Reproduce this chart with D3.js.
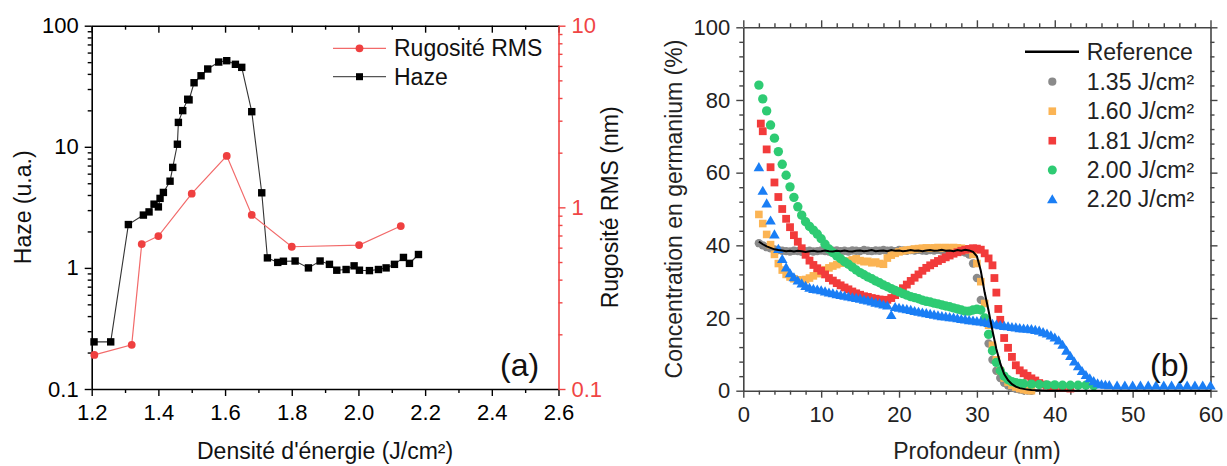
<!DOCTYPE html>
<html><head><meta charset="utf-8">
<script src="https://cdn.jsdelivr.net/npm/d3@7"></script>
<style>
body{margin:0;background:#fff;}
svg text{font-family:"Liberation Sans", Arial, sans-serif;}
</style></head><body>
<svg id="c" width="1227" height="466"></svg>
<script>
// ---------- Panel (a) data ----------
const hazeEnergy = [1.207,1.257,1.31,1.355,1.372,1.387,1.40,1.405,1.415,1.435,1.443,1.457,1.46,1.473,1.488,1.492,1.507,1.528,1.548,1.581,1.605,1.631,1.65,1.68,1.71,1.727,1.758,1.775,1.81,1.85,1.885,1.913,1.935,1.963,1.987,2.003,2.033,2.06,2.083,2.108,2.135,2.153,2.18];
const hazeValues = [0.245,0.245,2.28,2.73,2.9,3.36,3.19,3.75,4.2,5.2,6.76,10.5,15.9,19.9,24.7,24.4,33.8,38.6,43.9,50.1,51.4,48,45.3,19.5,4.17,1.21,1.11,1.135,1.14,1.0,1.14,1.07,0.957,0.97,1.04,0.957,0.95,0.97,1.0,1.07,1.22,1.09,1.29];
const rmsEnergy = [1.208,1.32,1.35,1.40,1.50,1.605,1.68,1.80,2.002,2.127];
const rmsValues = [0.154,0.175,0.628,0.695,1.19,1.92,0.908,0.607,0.62,0.789];
const xTicksA = [1.2,1.4,1.6,1.8,2.0,2.2,2.4,2.6];
const xMinorA = [1.3,1.5,1.7,1.9,2.1,2.3,2.5];
const yTicksHaze = [0.1,1,10,100];
const yTicksRms = [0.1,1,10];
const legendA = ["Rugosité RMS","Haze"];

// ---------- Panel (b) data : [depth nm, Ge %] ----------
const reference = [[2,41.0],[2.5,40.3],[3,39.7],[3.5,39.3],[4,38.9],[4.5,38.7],[5,38.6],[5.5,38.4],[6,38.5],[6.5,38.3],[7,38.5],[7.5,38.4],[8,38.2],[8.5,38.4],[9,38.5],[9.5,38.3],[10,38.4],[10.5,38.6],[11,38.4],[11.5,38.3],[12,38.5],[12.5,38.4],[13,38.6],[13.5,38.4],[14,38.3],[14.5,38.5],[15,38.6],[15.5,38.4],[16,38.5],[16.5,38.7],[17,38.4],[17.5,38.5],[18,38.6],[18.5,38.4],[19,38.7],[19.5,38.5],[20,38.6],[20.5,38.4],[21,38.5],[21.5,38.7],[22,38.5],[22.5,38.6],[23,38.4],[23.5,38.6],[24,38.7],[24.5,38.5],[25,38.6],[25.5,38.8],[26,38.5],[26.5,38.6],[27,38.4],[27.5,38.7],[28,38.5],[28.5,38.8],[29,38.6],[29.5,38.2],[30,37.0],[30.5,33.0],[31,27.0],[31.5,22.0],[32,16.5],[32.5,11.5],[33,7.5],[33.5,4.6],[34,2.9],[34.5,1.8],[35,1.1],[35.5,0.7],[36,0.5],[36.5,0.3],[37,0.2],[38,0.1],[39,0],[40,0],[45,0],[50,0],[55,0],[60,0]];
const f135 = [[2,40.6],[2.5,40.0],[3,39.5],[3.5,39.2],[4,38.9],[4.5,38.7],[5,38.5],[5.5,38.4],[6,38.3],[6.5,38.5],[7,38.4],[7.5,38.2],[8,38.4],[8.5,38.5],[9,38.3],[9.5,38.4],[10,38.6],[10.5,38.4],[11,38.3],[11.5,38.5],[12,38.6],[12.5,38.4],[13,38.5],[13.5,38.3],[14,38.6],[14.5,38.5],[15,38.4],[15.5,38.7],[16,38.5],[16.5,38.4],[17,38.6],[17.5,38.5],[18,38.7],[18.5,38.5],[19,38.6],[19.5,38.4],[20,38.7],[20.5,38.6],[21,38.5],[21.5,38.7],[22,38.6],[22.5,38.8],[23,38.6],[23.5,38.5],[24,38.7],[24.5,38.6],[25,38.8],[25.5,38.6],[26,38.7],[26.5,38.5],[27,38.6],[27.5,38.4],[28,38.3],[28.5,38.0],[29,37.5],[29.5,35.0],[30,31.0],[30.5,25.0],[31,19.0],[31.5,13.0],[32,8.5],[32.5,5.5],[33,3.5],[33.5,2.2],[34,1.4],[34.5,0.9],[35,0.5],[35.5,0.3],[36,0.1],[36.5,0.05],[37,0]];
const f160 = [[2,48.5],[2.5,46.0],[3,43.0],[3.5,40.2],[4,37.5],[4.5,35.0],[5,33.2],[5.5,32.0],[6,31.3],[6.5,30.8],[7,30.5],[7.5,30.4],[8,30.6],[8.5,31.0],[9,31.6],[9.5,32.2],[10,32.8],[10.5,33.3],[11,33.8],[11.5,34.3],[12,34.7],[12.5,35.1],[13,35.4],[13.5,35.7],[14,36.0],[14.5,36.3],[15,35.8],[15.5,35.5],[16,35.6],[16.5,35.2],[17,35.4],[17.5,35.0],[18,34.8],[18.5,36.5],[19,37.3],[19.5,37.8],[20,38.2],[20.5,38.5],[21,38.7],[21.5,38.8],[22,39.0],[22.5,39.1],[23,39.2],[23.5,39.3],[24,39.2],[24.5,39.3],[25,39.4],[25.5,39.3],[26,39.4],[26.5,39.3],[27,39.4],[27.5,39.3],[28,39.2],[28.5,39.0],[29,38.7],[29.5,37.5],[30,35.0],[30.5,30.0],[31,24.0],[31.5,18.0],[32,12.5],[32.5,8.5],[33,5.5],[33.5,3.5],[34,2.3],[34.5,1.5],[35,1.0],[35.5,0.6],[36,0.3],[36.5,0.1],[37,0]];
const f181 = [[2.25,73.5],[2.5,71.4],[3,66.4],[3.5,61.5],[4,57.3],[4.5,53.3],[5,50.0],[5.5,47.3],[6,45.0],[6.5,42.8],[7,41.0],[7.5,39.2],[8,37.4],[8.5,35.8],[9,34.6],[9.5,33.7],[10,33.0],[10.5,32.0],[11,31.0],[11.5,30.3],[12,29.6],[12.5,29.0],[13,28.4],[13.5,27.9],[14,27.3],[14.5,26.8],[15,26.4],[15.5,26.0],[16,25.8],[16.5,25.5],[17,25.3],[17.5,25.1],[18,25.0],[18.5,25.0],[19,25.5],[19.5,26.3],[20,27.2],[20.5,28.2],[21,29.2],[21.5,30.2],[22,31.1],[22.5,32.0],[23,33.0],[23.5,33.8],[24,34.5],[24.5,35.1],[25,35.7],[25.5,36.2],[26,36.7],[26.5,37.2],[27,37.7],[27.5,38.1],[28,38.5],[28.5,38.8],[29,39.0],[29.5,39.2],[30,39.1],[30.5,38.8],[31,37.8],[31.5,36.4],[32,34.5],[32.25,31.0],[32.5,27.0],[32.75,22.5],[33,19.5],[33.5,14.5],[34,11.8],[34.5,9.3],[35,7.0],[35.5,5.6],[36,4.8],[36.5,4.1],[37,3.4],[37.5,2.8],[38,2.1],[38.5,1.7],[39,1.4],[39.5,1.2],[40,1.0],[41,0.8],[42,0.6]];
const f200 = [[2,84.1],[2.5,80.3],[3,77.0],[3.5,73.1],[4,69.5],[4.5,65.8],[5,62.3],[5.5,59.3],[6,56.1],[6.5,53.2],[7,50.6],[7.5,48.3],[8,46.5],[8.5,45.2],[9,44.2],[9.5,43.1],[10,41.8],[10.5,40.3],[11,39.0],[11.5,38.0],[12,37.1],[12.5,36.3],[13,35.5],[13.5,34.8],[14,34.0],[14.5,33.2],[15,32.5],[15.5,31.9],[16,31.3],[16.5,30.8],[17,30.2],[17.5,29.7],[18,29.1],[18.5,28.6],[19,28.1],[19.5,27.6],[20,27.2],[20.5,26.7],[21,26.3],[21.5,25.9],[22,25.6],[22.5,25.3],[23,24.9],[23.5,24.6],[24,24.4],[24.5,24.1],[25,23.9],[25.5,23.6],[26,23.3],[26.5,23.1],[27,22.8],[27.5,22.5],[28,22.2],[28.5,21.9],[29,21.9],[29.5,22.2],[30,22.4],[30.5,22.2],[31,20.0],[31.5,15.5],[32,11.0],[32.5,7.8],[33,5.5],[33.5,4.0],[34,3.0],[34.5,2.5],[35,2.2],[35.5,2.0],[36,1.9],[37,1.8],[38,1.7],[39,1.6],[40,1.6],[41,1.5],[42,1.5],[43,1.5],[44,1.5],[45,1.4]];
const f220 = [[2,61.5],[2.5,55.0],[3,51.5],[3.5,46.8],[4,43.0],[4.5,39.0],[5,36.2],[5.5,33.9],[6,32.3],[6.5,31.2],[7,30.3],[7.5,29.5],[8,28.8],[8.5,28.3],[9,28.0],[9.5,27.8],[10,27.6],[10.5,27.3],[11,27.0],[11.5,26.8],[12,26.5],[12.5,26.3],[13,26.1],[13.5,25.9],[14,25.7],[14.5,25.5],[15,25.3],[15.5,25.0],[16,24.8],[16.5,24.5],[17,24.2],[17.5,24.0],[18,23.7],[18.5,23.4],[19,20.8],[19.5,23.0],[20,22.8],[20.5,22.6],[21,22.4],[21.5,22.2],[22,21.9],[22.5,21.7],[23,21.5],[23.5,21.3],[24,21.1],[24.5,20.9],[25,20.7],[25.5,20.5],[26,20.4],[26.5,20.2],[27,20.1],[27.5,19.9],[28,19.7],[28.5,19.6],[29,19.4],[29.5,19.3],[30,19.1],[30.5,19.0],[31,18.8],[31.5,18.6],[32,18.4],[32.5,18.2],[33,18.0],[33.5,17.8],[34,17.7],[34.5,17.5],[35,17.4],[35.5,17.2],[36,17.1],[36.5,17.0],[37,16.9],[37.5,16.7],[38,16.5],[38.5,16.1],[39,15.7],[39.5,15.2],[40,14.6],[40.5,13.8],[41,12.6],[41.5,11.0],[42,9.5],[42.5,8.0],[43,6.7],[43.5,5.4],[44,4.3],[44.5,3.4],[45,2.6],[45.5,2.0],[46,1.7],[46.5,1.6],[47,1.5],[48,1.4],[49,1.4],[50,1.4],[51,1.4],[52,1.4],[53,1.4],[54,1.4],[55,1.4],[56,1.4],[57,1.4],[58,1.4],[59,1.4],[60,1.4]];
const xTicksB = [0,10,20,30,40,50,60];
const yTicksB = [0,20,40,60,80,100];
const legendB = ["Reference","1.35 J/cm²","1.60 J/cm²","1.81 J/cm²","2.00 J/cm²","2.20 J/cm²"];

// ---------- helpers ----------
const svg = d3.select("#c");
const FONT = "'Liberation Sans', Arial, sans-serif";
function styleAxis(g, color, fs){
  g.attr("color", color).attr("font-size", fs).attr("font-family", FONT);
  g.selectAll("path.domain").attr("stroke-width", 1.6);
  g.selectAll(".tick line").attr("stroke-width", 1.4);
}
function minorLog(lo, hi){
  const out=[];
  for(let d=lo; d<hi*0.999; d*=10){ for(let k=2;k<10;k++) out.push(+(d*k).toPrecision(3)); }
  return out;
}

// ================= Panel (a) =================
const A = {x0:91.7, x1:558.5, y0:25.7, y1:389};
const xA = d3.scaleLinear().domain([1.2,2.6]).range([A.x0,A.x1]);
const yH = d3.scaleLog().domain([0.1,100]).range([A.y1,A.y0]);
const yR = d3.scaleLog().domain([0.1,10]).range([A.y1,A.y0]);
const gA = svg.append("g");
const fmtA = d=> d3.format(".1f")(d);

let g = gA.append("g").attr("transform",`translate(0,${A.y1})`)
  .call(d3.axisBottom(xA).tickValues(xTicksA).tickFormat(fmtA).tickSizeInner(7).tickSizeOuter(0).tickPadding(8));
styleAxis(g,"#000",22);
g = gA.append("g").attr("transform",`translate(0,${A.y1})`)
  .call(d3.axisBottom(xA).tickValues(xMinorA).tickFormat("").tickSizeInner(4).tickSizeOuter(0));
styleAxis(g,"#000",22); g.select(".domain").remove();
g = gA.append("g").attr("transform",`translate(0,${A.y0})`)
  .call(d3.axisBottom(xA).tickValues(xTicksA).tickFormat("").tickSizeInner(7).tickSizeOuter(0));
styleAxis(g,"#000",22);
g = gA.append("g").attr("transform",`translate(0,${A.y0})`)
  .call(d3.axisBottom(xA).tickValues(xMinorA).tickFormat("").tickSizeInner(4).tickSizeOuter(0));
styleAxis(g,"#000",22); g.select(".domain").remove();
g = gA.append("g").attr("transform",`translate(${A.x0},0)`)
  .call(d3.axisLeft(yH).tickValues(yTicksHaze).tickFormat(d=>String(d)).tickSizeInner(7).tickSizeOuter(0).tickPadding(6));
styleAxis(g,"#000",22);
g = gA.append("g").attr("transform",`translate(${A.x0},0)`)
  .call(d3.axisLeft(yH).tickValues(minorLog(0.1,100)).tickFormat("").tickSizeInner(4).tickSizeOuter(0));
styleAxis(g,"#000",22); g.select(".domain").remove();
const RED_AX = "#f04545";
g = gA.append("g").attr("transform",`translate(${A.x1},0)`)
  .call(d3.axisRight(yR).tickValues(yTicksRms).tickFormat(d=>String(d)).tickSizeInner(7).tickSizeOuter(0).tickPadding(6));
styleAxis(g,RED_AX,22);
g = gA.append("g").attr("transform",`translate(${A.x1},0)`)
  .call(d3.axisRight(yR).tickValues(minorLog(0.1,10)).tickFormat("").tickSizeInner(4).tickSizeOuter(0));
styleAxis(g,RED_AX,22); g.select(".domain").remove();

const hazePts = hazeEnergy.map((e,i)=>[e,hazeValues[i]]);
const rmsPts = rmsEnergy.map((e,i)=>[e,rmsValues[i]]);
gA.append("path").datum(hazePts)
  .attr("d", d3.line().x(d=>xA(d[0])).y(d=>yH(d[1])))
  .attr("fill","none").attr("stroke","#333").attr("stroke-width",1.1);
gA.selectAll(".hz").data(hazePts).join("rect")
  .attr("x",d=>xA(d[0])-3.7).attr("y",d=>yH(d[1])-3.7).attr("width",7.4).attr("height",7.4).attr("fill","#000");
gA.append("path").datum(rmsPts)
  .attr("d", d3.line().x(d=>xA(d[0])).y(d=>yR(d[1])))
  .attr("fill","none").attr("stroke","#f26a6a").attr("stroke-width",1.2);
gA.selectAll(".rm").data(rmsPts).join("circle")
  .attr("cx",d=>xA(d[0])).attr("cy",d=>yR(d[1])).attr("r",3.9).attr("fill","#ef4040");

const legA = gA.append("g");
[[48.3,"#f26a6a"],[76.7,"#555"]].forEach((r,i)=>{
  legA.append("line").attr("x1",333).attr("x2",386).attr("y1",r[0]).attr("y2",r[0]).attr("stroke",r[1]).attr("stroke-width",1.2);
  if(i===0) legA.append("circle").attr("cx",359.5).attr("cy",r[0]).attr("r",3.9).attr("fill","#ef4040");
  else legA.append("rect").attr("x",356).attr("y",r[0]-3.5).attr("width",7).attr("height",7).attr("fill","#000");
  legA.append("text").attr("x",394).attr("y",r[0]+8).attr("font-size",23).attr("fill","#111").text(legendA[i]);
});
gA.append("text").attr("x",(A.x0+A.x1)/2).attr("y",459).attr("text-anchor","middle").attr("font-size",23).attr("fill","#111")
  .text("Densité d'énergie (J/cm²)");
gA.append("text").attr("transform",`translate(31,${(A.y0+A.y1)/2}) rotate(-90)`).attr("text-anchor","middle").attr("font-size",23).attr("fill","#111")
  .text("Haze (u.a.)");
gA.append("text").attr("transform",`translate(618,${(A.y0+A.y1)/2}) rotate(-90)`).attr("text-anchor","middle").attr("font-size",23).attr("fill","#111")
  .text("Rugosité RMS (nm)");
gA.append("text").attr("x",500).attr("y",376).attr("font-size",32).attr("font-family","'DejaVu Sans', sans-serif").attr("fill","#111").text("(a)");

// ================= Panel (b) =================
const B = {x0:743.3, x1:1210.5, y0:27.3, y1:390.7};
const xB = d3.scaleLinear().domain([0,60]).range([B.x0,B.x1]);
const yB = d3.scaleLinear().domain([0,100]).range([B.y1,B.y0]);
const gB = svg.append("g");
const AXB = "#444";
const xMinorB = d3.range(0,61,2).filter(v=>v%10!==0);
const yMinorB = d3.range(0,101,4).filter(v=>v%20!==0);

g = gB.append("g").attr("transform",`translate(0,${B.y1})`)
  .call(d3.axisBottom(xB).tickValues(xTicksB).tickSizeInner(7).tickSizeOuter(0).tickPadding(9));
styleAxis(g,AXB,22); g.selectAll("text").attr("fill","#222");
g = gB.append("g").attr("transform",`translate(0,${B.y1})`)
  .call(d3.axisBottom(xB).tickValues(xMinorB).tickFormat("").tickSizeInner(4).tickSizeOuter(0));
styleAxis(g,AXB,22); g.select(".domain").remove();
g = gB.append("g").attr("transform",`translate(0,${B.y0})`)
  .call(d3.axisTop(xB).tickValues(xTicksB).tickFormat("").tickSizeInner(7).tickSizeOuter(0));
styleAxis(g,AXB,22);
g = gB.append("g").attr("transform",`translate(0,${B.y0})`)
  .call(d3.axisTop(xB).tickValues(xMinorB).tickFormat("").tickSizeInner(4).tickSizeOuter(0));
styleAxis(g,AXB,22); g.select(".domain").remove();
g = gB.append("g").attr("transform",`translate(${B.x0},0)`)
  .call(d3.axisLeft(yB).tickValues(yTicksB).tickSizeInner(7).tickSizeOuter(0).tickPadding(6));
styleAxis(g,AXB,22); g.selectAll("text").attr("fill","#222");
g = gB.append("g").attr("transform",`translate(${B.x0},0)`)
  .call(d3.axisLeft(yB).tickValues(yMinorB).tickFormat("").tickSizeInner(4).tickSizeOuter(0));
styleAxis(g,AXB,22); g.select(".domain").remove();
g = gB.append("g").attr("transform",`translate(${B.x1},0)`)
  .call(d3.axisRight(yB).tickValues(yTicksB).tickFormat("").tickSizeInner(7).tickSizeOuter(0));
styleAxis(g,AXB,22);
g = gB.append("g").attr("transform",`translate(${B.x1},0)`)
  .call(d3.axisRight(yB).tickValues(yMinorB).tickFormat("").tickSizeInner(4).tickSizeOuter(0));
styleAxis(g,AXB,22); g.select(".domain").remove();

const COL = {g:"#8a8a8a", o:"#fbb454", r:"#f23b3b", gr:"#2ecb73", b:"#1a7ef5"};
const triSym = d3.symbol().type(d3.symbolTriangle).size(48);
function circles(data,color,r){ gB.append("g").selectAll("circle").data(data).join("circle")
  .attr("cx",d=>xB(d[0])).attr("cy",d=>yB(d[1])).attr("r",r).attr("fill",color); }
function squares(data,color,s){ gB.append("g").selectAll("rect").data(data).join("rect")
  .attr("x",d=>xB(d[0])-s/2).attr("y",d=>yB(d[1])-s/2).attr("width",s).attr("height",s).attr("fill",color); }
function tris(data,color){ gB.append("g").selectAll("path").data(data).join("path")
  .attr("d",triSym).attr("transform",d=>`translate(${xB(d[0])},${yB(d[1])+0.9})`).attr("fill",color); }

circles(f135,COL.g,4.2);
squares(f160,COL.o,7.6);
squares(f181,COL.r,7.8);
circles(f200,COL.gr,4.7);
tris(f220,COL.b);
gB.append("path").datum(reference)
  .attr("d", d3.line().x(d=>xB(d[0])).y(d=>yB(d[1])))
  .attr("fill","none").attr("stroke","#000").attr("stroke-width",2);

const rowsB = [51.7,81.7,111.2,140.7,170,199.4];
const legB = gB.append("g");
legB.append("line").attr("x1",1025).attr("x2",1079).attr("y1",rowsB[0]).attr("y2",rowsB[0]).attr("stroke","#000").attr("stroke-width",2.4);
legB.append("circle").attr("cx",1052.3).attr("cy",rowsB[1]).attr("r",4.1).attr("fill",COL.g);
legB.append("rect").attr("x",1052.3-3.8).attr("y",rowsB[2]-3.8).attr("width",7.6).attr("height",7.6).attr("fill",COL.o);
legB.append("rect").attr("x",1052.3-3.8).attr("y",rowsB[3]-3.8).attr("width",7.6).attr("height",7.6).attr("fill",COL.r);
legB.append("circle").attr("cx",1052.3).attr("cy",rowsB[4]).attr("r",4.5).attr("fill",COL.gr);
legB.append("path").attr("d",triSym()).attr("transform",`translate(1052.3,${rowsB[5]+0.9})`).attr("fill",COL.b);
legendB.forEach((t,i)=>{
  legB.append("text").attr("x",1086.7).attr("y",rowsB[i]+8).attr("font-size",23).attr("fill","#222").text(t);
});
gB.append("text").attr("x",(B.x0+B.x1)/2).attr("y",459).attr("text-anchor","middle").attr("font-size",23).attr("fill","#222")
  .text("Profondeur (nm)");
gB.append("text").attr("transform",`translate(682,${(B.y0+B.y1)/2}) rotate(-90)`).attr("text-anchor","middle").attr("font-size",23).attr("fill","#222")
  .text("Concentration en germanium (%)");
gB.append("text").attr("x",1150).attr("y",376).attr("font-size",32).attr("font-family","'DejaVu Sans', sans-serif").attr("fill","#111").text("(b)");
</script>
</body></html>
